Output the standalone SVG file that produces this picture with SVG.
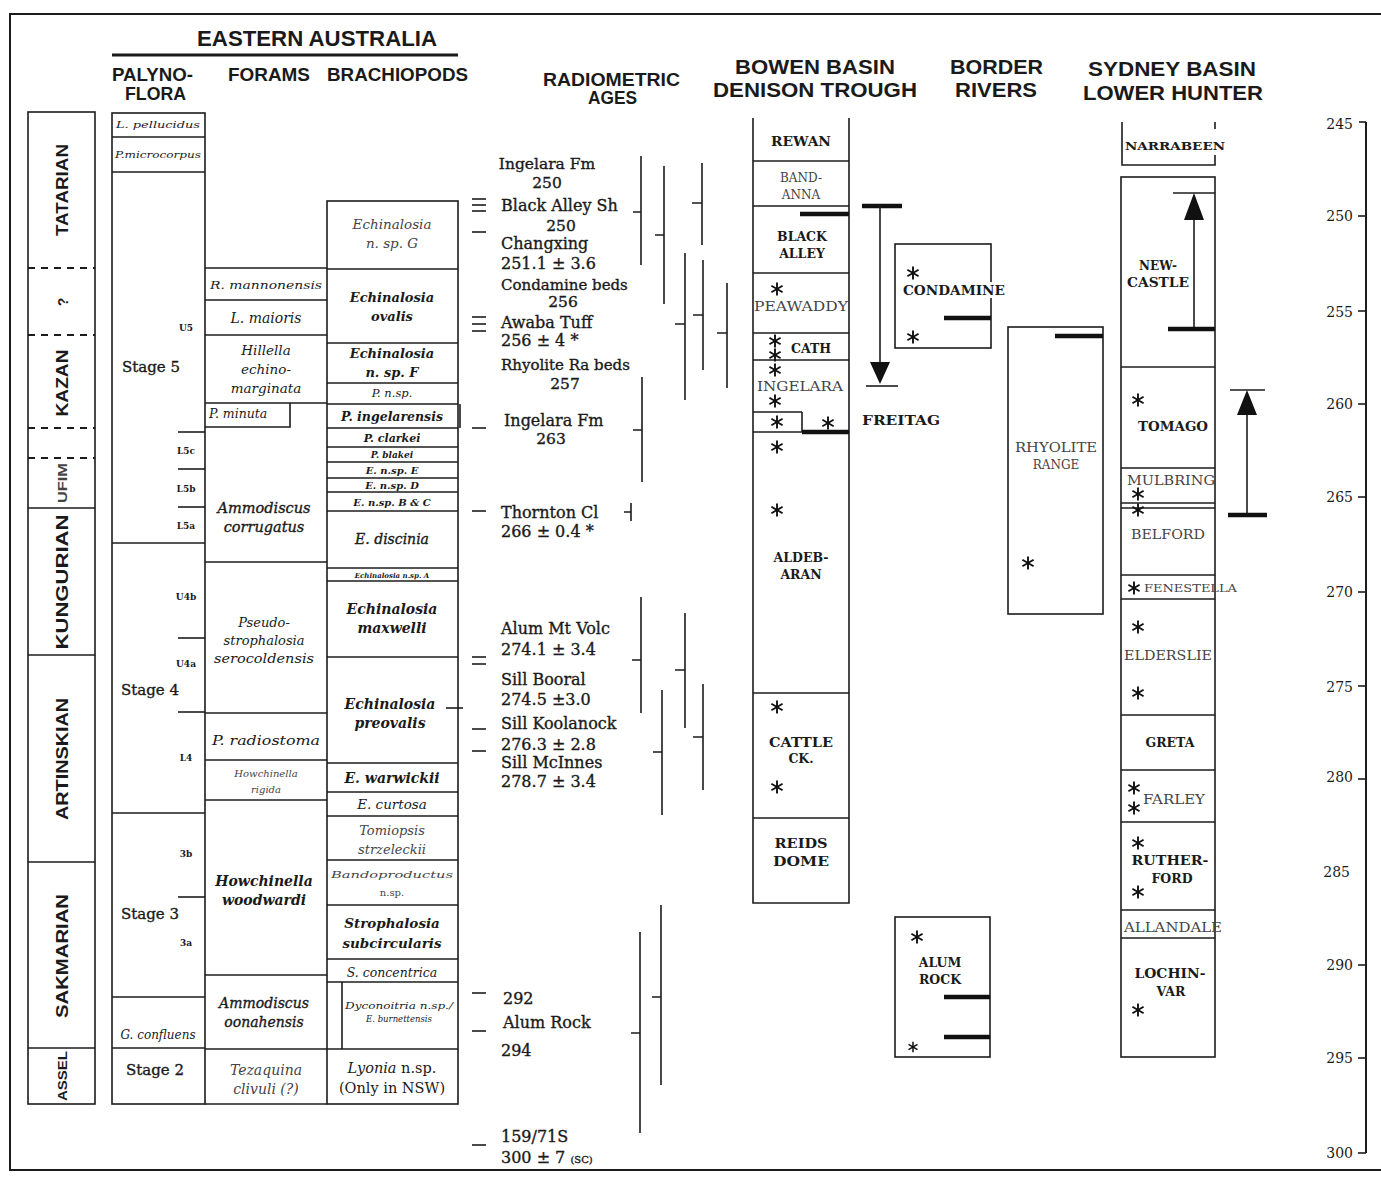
<svg xmlns="http://www.w3.org/2000/svg" width="1381" height="1184" viewBox="0 0 1381 1184">
<defs>
<style>
.ln{stroke:#1c1c1c;stroke-width:1.6;fill:none}
.tk{stroke:#1c1c1c;stroke-width:1.6}
.thk{stroke:#111;stroke-width:4.5}
.dsh{stroke:#1c1c1c;stroke-width:1.8;stroke-dasharray:7 6}
.hd{font-family:"Liberation Sans",Arial,sans-serif;font-weight:bold;fill:#1a1a1a}
.s{font-family:"DejaVu Serif","Liberation Serif",serif;fill:#1a1a1a}
.rd{stroke:#1a1a1a;stroke-width:0.35}
.i{font-style:italic}
.b{font-weight:bold}
.g{fill:#444}
.c{text-anchor:middle}
.r{text-anchor:end}
</style>
<g id="ast" stroke="#111" stroke-width="1.9"><line x1="0" y1="-6.5" x2="0" y2="6.5"/><line x1="-5.6" y1="-3.2" x2="5.6" y2="3.2"/><line x1="-5.6" y1="3.2" x2="5.6" y2="-3.2"/></g>
</defs>
<rect width="1381" height="1184" fill="#fff"/>
<rect x="10" y="14" width="1385" height="1156" class="ln" style="stroke-width:2"/>

<g id="headers">
<text class="hd" x="197" y="46" font-size="22" textLength="240" lengthAdjust="spacingAndGlyphs">EASTERN AUSTRALIA</text>
<line x1="112" y1="55" x2="458" y2="55" stroke="#1a1a1a" stroke-width="3"/>
<text class="hd" x="112" y="81" font-size="18" textLength="81" lengthAdjust="spacingAndGlyphs">PALYNO-</text>
<text class="hd" x="125" y="100" font-size="18" textLength="61" lengthAdjust="spacingAndGlyphs">FLORA</text>
<text class="hd" x="228" y="81" font-size="18" textLength="82" lengthAdjust="spacingAndGlyphs">FORAMS</text>
<text class="hd" x="327" y="81" font-size="18" textLength="141" lengthAdjust="spacingAndGlyphs">BRACHIOPODS</text>
<text class="hd" x="543" y="86" font-size="18" textLength="137" lengthAdjust="spacingAndGlyphs">RADIOMETRIC</text>
<text class="hd" x="588" y="104" font-size="18" textLength="49" lengthAdjust="spacingAndGlyphs">AGES</text>
<text class="hd" x="735" y="74" font-size="21" textLength="160" lengthAdjust="spacingAndGlyphs">BOWEN BASIN</text>
<text class="hd" x="713" y="97" font-size="21" textLength="204" lengthAdjust="spacingAndGlyphs">DENISON TROUGH</text>
<text class="hd" x="950" y="74" font-size="21" textLength="93" lengthAdjust="spacingAndGlyphs">BORDER</text>
<text class="hd" x="955" y="97" font-size="21" textLength="82" lengthAdjust="spacingAndGlyphs">RIVERS</text>
<text class="hd" x="1088" y="76" font-size="21" textLength="168" lengthAdjust="spacingAndGlyphs">SYDNEY BASIN</text>
<text class="hd" x="1083" y="100" font-size="21" textLength="180" lengthAdjust="spacingAndGlyphs">LOWER HUNTER</text>
</g>

<g id="intl-stages">
<rect x="28" y="112" width="67" height="992" class="ln"/>
<line x1="28" y1="268" x2="95" y2="268" class="dsh"/>
<line x1="28" y1="335" x2="95" y2="335" class="dsh"/>
<line x1="28" y1="428" x2="95" y2="428" class="dsh"/>
<line x1="28" y1="458" x2="95" y2="458" class="dsh"/>
<line x1="28" y1="508" x2="95" y2="508" class="tk"/>
<line x1="28" y1="655" x2="95" y2="655" class="tk"/>
<line x1="28" y1="862" x2="95" y2="862" class="tk"/>
<line x1="28" y1="1048" x2="95" y2="1048" class="tk"/>
<text class="hd c" font-size="16" transform="translate(68,190) rotate(-90)" textLength="92" lengthAdjust="spacingAndGlyphs">TATARIAN</text>
<text class="hd c" font-size="14" transform="translate(68,302) rotate(-90)">?</text>
<text class="hd c" font-size="16" transform="translate(68,383) rotate(-90)" textLength="67" lengthAdjust="spacingAndGlyphs">KAZAN</text>
<text class="hd c g" font-size="12" transform="translate(67,483) rotate(-90)" textLength="40" lengthAdjust="spacingAndGlyphs">UFIM</text>
<text class="hd c" font-size="16" transform="translate(68,582) rotate(-90)" textLength="135" lengthAdjust="spacingAndGlyphs">KUNGURIAN</text>
<text class="hd c" font-size="16" transform="translate(68,759) rotate(-90)" textLength="122" lengthAdjust="spacingAndGlyphs">ARTINSKIAN</text>
<text class="hd c" font-size="16" transform="translate(68,956) rotate(-90)" textLength="124" lengthAdjust="spacingAndGlyphs">SAKMARIAN</text>
<text class="hd c" font-size="13" transform="translate(67,1076) rotate(-90)" textLength="50" lengthAdjust="spacingAndGlyphs">ASSEL</text>
</g>

<g id="palynoflora">
<rect x="112" y="113" width="93" height="991" class="ln"/>
<line x1="112" y1="137" x2="205" y2="137" class="tk"/>
<line x1="112" y1="172" x2="205" y2="172" class="tk"/>
<line x1="112" y1="543" x2="205" y2="543" class="tk"/>
<line x1="112" y1="813" x2="205" y2="813" class="tk"/>
<line x1="112" y1="997" x2="205" y2="997" class="tk"/>
<line x1="112" y1="1048" x2="205" y2="1048" class="tk"/>
<line x1="178" y1="432" x2="205" y2="432" class="tk"/>
<line x1="178" y1="469" x2="205" y2="469" class="tk"/>
<line x1="178" y1="507" x2="205" y2="507" class="tk"/>
<line x1="178" y1="638" x2="205" y2="638" class="tk"/>
<line x1="178" y1="712" x2="205" y2="712" class="tk"/>
<line x1="178" y1="897" x2="205" y2="897" class="tk"/>
<text class="s i c" x="158" y="128" font-size="9.5" textLength="84" lengthAdjust="spacingAndGlyphs">L. pellucidus</text>
<text class="s i c" x="158" y="158" font-size="9.5" textLength="86" lengthAdjust="spacingAndGlyphs">P.microcorpus</text>
<text class="s rd" x="122" y="372" font-size="15">Stage 5</text>
<text class="s b c" x="186" y="331" font-size="9">U5</text>
<text class="s b c" x="186" y="454" font-size="9">L5c</text>
<text class="s b c" x="186" y="492" font-size="9">L5b</text>
<text class="s b c" x="186" y="529" font-size="9">L5a</text>
<text class="s b c" x="186" y="600" font-size="9">U4b</text>
<text class="s b c" x="186" y="667" font-size="9">U4a</text>
<text class="s rd" x="121" y="695" font-size="15">Stage 4</text>
<text class="s b c" x="186" y="761" font-size="9">L4</text>
<text class="s b c" x="186" y="857" font-size="9">3b</text>
<text class="s rd" x="121" y="919" font-size="15">Stage 3</text>
<text class="s b c" x="186" y="946" font-size="9">3a</text>
<text class="s i c" x="158" y="1039" font-size="12">G. confluens</text>
<text class="s c rd" x="155" y="1075" font-size="15">Stage 2</text>
</g>

<g id="forams">
<line x1="205" y1="268" x2="327" y2="268" class="tk"/>
<line x1="205" y1="300" x2="327" y2="300" class="tk"/>
<line x1="205" y1="335" x2="327" y2="335" class="tk"/>
<line x1="205" y1="403" x2="327" y2="403" class="tk"/>
<path d="M205,427 H290 V403" class="ln"/>
<line x1="205" y1="562" x2="327" y2="562" class="tk"/>
<line x1="205" y1="713" x2="327" y2="713" class="tk"/>
<line x1="205" y1="760" x2="327" y2="760" class="tk"/>
<line x1="205" y1="800" x2="327" y2="800" class="tk"/>
<line x1="205" y1="975" x2="327" y2="975" class="tk"/>
<line x1="205" y1="1049" x2="327" y2="1049" class="tk"/>
<line x1="205" y1="1104" x2="327" y2="1104" class="tk"/>
<text class="s i c" x="266" y="289" font-size="10.5" textLength="112" lengthAdjust="spacingAndGlyphs">R. mannonensis</text>
<text class="s i c" x="266" y="323" font-size="14">L. maioris</text>
<text class="s i c" x="266" y="355" font-size="13.5">Hillella</text>
<text class="s i c" x="266" y="374" font-size="13.5">echino-</text>
<text class="s i c" x="266" y="393" font-size="13.5">marginata</text>
<text class="s i" x="209" y="418" font-size="12.5">P. minuta</text>
<text class="s i c rd" x="264" y="513" font-size="14.5">Ammodiscus</text>
<text class="s i c rd" x="264" y="532" font-size="14.5">corrugatus</text>
<text class="s i c" x="264" y="627" font-size="13">Pseudo-</text>
<text class="s i c" x="264" y="645" font-size="13">strophalosia</text>
<text class="s i c" x="264" y="663" font-size="13" textLength="100" lengthAdjust="spacingAndGlyphs">serocoldensis</text>
<text class="s i c" x="266" y="745" font-size="13.5" textLength="108" lengthAdjust="spacingAndGlyphs">P. radiostoma</text>
<text class="s i c g" x="266" y="777" font-size="10">Howchinella</text>
<text class="s i c g" x="266" y="793" font-size="10">rigida</text>
<text class="s i b c" x="264" y="886" font-size="14">Howchinella</text>
<text class="s i b c" x="264" y="905" font-size="14">woodwardi</text>
<text class="s i c rd" x="264" y="1008" font-size="14">Ammodiscus</text>
<text class="s i c rd" x="264" y="1027" font-size="14">oonahensis</text>
<text class="s i c g" x="266" y="1075" font-size="14">Tezaquina</text>
<text class="s i c g" x="266" y="1094" font-size="14">clivuli (?)</text>
</g>

<g id="brachiopods">
<rect x="327" y="201" width="131" height="903" class="ln"/>
<line x1="327" y1="269" x2="458" y2="269" class="tk"/>
<line x1="327" y1="343" x2="458" y2="343" class="tk"/>
<line x1="327" y1="383" x2="458" y2="383" class="tk"/>
<line x1="327" y1="404" x2="458" y2="404" class="tk"/>
<line x1="327" y1="428" x2="458" y2="428" class="tk"/>
<line x1="460" y1="404" x2="460" y2="428" class="tk"/>
<line x1="327" y1="447" x2="458" y2="447" class="tk"/>
<line x1="327" y1="462" x2="458" y2="462" class="tk"/>
<line x1="327" y1="478" x2="458" y2="478" class="tk"/>
<line x1="327" y1="492" x2="458" y2="492" class="tk"/>
<line x1="327" y1="511" x2="458" y2="511" class="tk"/>
<line x1="327" y1="568" x2="458" y2="568" class="tk"/>
<line x1="327" y1="581" x2="458" y2="581" class="tk"/>
<line x1="327" y1="657" x2="458" y2="657" class="tk"/>
<line x1="327" y1="763" x2="458" y2="763" class="tk"/>
<line x1="327" y1="792" x2="458" y2="792" class="tk"/>
<line x1="327" y1="816" x2="458" y2="816" class="tk"/>
<line x1="327" y1="860" x2="458" y2="860" class="tk"/>
<line x1="327" y1="905" x2="458" y2="905" class="tk"/>
<line x1="327" y1="959" x2="458" y2="959" class="tk"/>
<line x1="327" y1="982" x2="458" y2="982" class="tk"/>
<line x1="327" y1="1049" x2="458" y2="1049" class="tk"/>
<line x1="342" y1="982" x2="342" y2="1049" class="tk"/>
<line x1="446" y1="708" x2="463" y2="708" class="tk"/>
<text class="s i c g" x="392" y="229" font-size="13.5">Echinalosia</text>
<text class="s i c g" x="392" y="248" font-size="13.5">n. sp. G</text>
<text class="s i b c" x="392" y="302" font-size="13">Echinalosia</text>
<text class="s i b c" x="392" y="321" font-size="13">ovalis</text>
<text class="s i b c" x="392" y="358" font-size="13">Echinalosia</text>
<text class="s i b c" x="392" y="377" font-size="13">n. sp. F</text>
<text class="s i c" x="392" y="397" font-size="11.5">P. n.sp.</text>
<text class="s i b c" x="392" y="421" font-size="12.5">P. ingelarensis</text>
<text class="s i b c" x="392" y="442" font-size="11">P. clarkei</text>
<text class="s i b c" x="392" y="458" font-size="9">P. blakei</text>
<text class="s i b c" x="392" y="474" font-size="10">E. n.sp. E</text>
<text class="s i b c" x="392" y="489" font-size="10">E. n.sp. D</text>
<text class="s i b c" x="392" y="506" font-size="10">E. n.sp. B &amp; C</text>
<text class="s i c rd" x="392" y="544" font-size="14">E. discinia</text>
<text class="s i b c" x="392" y="578" font-size="7">Echinalosia n.sp. A</text>
<text class="s i b c" x="392" y="614" font-size="14">Echinalosia</text>
<text class="s i b c" x="392" y="633" font-size="14">maxwelli</text>
<text class="s i b c" x="390" y="709" font-size="14">Echinalosia</text>
<text class="s i b c" x="390" y="728" font-size="14">preovalis</text>
<text class="s i b c" x="392" y="783" font-size="14">E. warwickii</text>
<text class="s i c" x="392" y="809" font-size="13.5">E. curtosa</text>
<text class="s i c g" x="392" y="835" font-size="13">Tomiopsis</text>
<text class="s i c g" x="392" y="854" font-size="13">strzeleckii</text>
<text class="s i c g" x="392" y="878" font-size="10" textLength="122" lengthAdjust="spacingAndGlyphs">Bandoproductus</text>
<text class="s c g" x="392" y="896" font-size="10">n.sp.</text>
<text class="s i b c" x="392" y="928" font-size="13.5">Strophalosia</text>
<text class="s i b c" x="392" y="948" font-size="13.5">subcircularis</text>
<text class="s i c" x="392" y="977" font-size="12.5">S. concentrica</text>
<text class="s i c" x="399" y="1009" font-size="8.5" textLength="108" lengthAdjust="spacingAndGlyphs">Dyconoitria n.sp./</text>
<text class="s i c" x="399" y="1022" font-size="8.5">E. burnettensis</text>
<text class="s c" x="392" y="1073" font-size="14.5"><tspan class="i">Lyonia</tspan>  n.sp.</text>
<text class="s c" x="392" y="1093" font-size="14.5">(Only in NSW)</text>
</g>

<g id="radiometric-ages">
<g class="tk">
<line x1="472" y1="199" x2="486" y2="199"/><line x1="472" y1="205" x2="486" y2="205"/><line x1="472" y1="211" x2="486" y2="211"/>
<line x1="472" y1="232" x2="486" y2="232"/>
<line x1="472" y1="317" x2="486" y2="317"/><line x1="472" y1="324" x2="486" y2="324"/><line x1="472" y1="331" x2="486" y2="331"/>
<line x1="472" y1="428" x2="486" y2="428"/>
<line x1="472" y1="511" x2="486" y2="511"/>
<line x1="472" y1="657" x2="486" y2="657"/><line x1="472" y1="664" x2="486" y2="664"/>
<line x1="472" y1="729" x2="486" y2="729"/>
<line x1="472" y1="751" x2="486" y2="751"/>
<line x1="472" y1="993" x2="486" y2="993"/>
<line x1="472" y1="1031" x2="486" y2="1031"/>
<line x1="472" y1="1145" x2="486" y2="1145"/>
</g>
<g class="rd">
<text class="s c" x="547" y="169" font-size="15.5">Ingelara Fm</text>
<text class="s c" x="547" y="188" font-size="15.5">250</text>
<text class="s" x="501" y="211" font-size="16">Black Alley Sh</text>
<text class="s c" x="561" y="231" font-size="15.5">250</text>
<text class="s" x="501" y="249" font-size="16">Changxing</text>
<text class="s" x="501" y="269" font-size="16">251.1 ± 3.6</text>
<text class="s" x="501" y="290" font-size="15">Condamine beds</text>
<text class="s c" x="563" y="307" font-size="15.5">256</text>
<text class="s" x="501" y="328" font-size="16">Awaba Tuff</text>
<text class="s" x="501" y="346" font-size="16">256 ± 4 *</text>
<text class="s" x="501" y="370" font-size="15">Rhyolite Ra beds</text>
<text class="s c" x="565" y="389" font-size="15.5">257</text>
<text class="s" x="504" y="426" font-size="16">Ingelara Fm</text>
<text class="s c" x="551" y="444" font-size="15.5">263</text>
<text class="s" x="501" y="518" font-size="16">Thornton Cl</text>
<text class="s" x="501" y="537" font-size="16">266 ± 0.4 *</text>
<text class="s" x="501" y="634" font-size="16">Alum Mt Volc</text>
<text class="s" x="501" y="655" font-size="16">274.1 ± 3.4</text>
<text class="s" x="501" y="685" font-size="16">Sill Booral</text>
<text class="s" x="501" y="705" font-size="16">274.5 ±3.0</text>
<text class="s" x="501" y="729" font-size="16">Sill Koolanock</text>
<text class="s" x="501" y="750" font-size="16">276.3 ± 2.8</text>
<text class="s" x="501" y="768" font-size="16">Sill McInnes</text>
<text class="s" x="501" y="787" font-size="16">278.7 ± 3.4</text>
<text class="s" x="503" y="1004" font-size="16">292</text>
<text class="s" x="503" y="1028" font-size="16">Alum Rock</text>
<text class="s" x="501" y="1056" font-size="16">294</text>
<text class="s" x="501" y="1142" font-size="16">159/71S</text>
<text class="s" x="501" y="1163" font-size="16">300 ± 7 <tspan font-size="10">(SC)</tspan></text>
</g>
</g>

<g id="error-bars" class="tk">
<path d="M641,156 V265 M633,212 H641" class="ln"/>
<path d="M664,166 V304 M655,235 H664" class="ln"/>
<path d="M702,163 V245 M692,203 H702" class="ln"/>
<path d="M685,253 V400 M675,324 H685" class="ln"/>
<path d="M703,260 V370 M693,315 H703" class="ln"/>
<path d="M727,283 V388 M717,333 H727" class="ln"/>
<path d="M642,377 V482 M633,430 H642" class="ln"/>
<path d="M631,503 V521 M624,512 H631" class="ln"/>
<path d="M641,597 V713 M632,660 H641" class="ln"/>
<path d="M685,613 V728 M675,670 H685" class="ln"/>
<path d="M662,690 V815 M653,752 H662" class="ln"/>
<path d="M703,684 V790 M693,737 H703" class="ln"/>
<path d="M640,932 V1133 M631,1033 H640" class="ln"/>
<path d="M661,905 V1085 M652,997 H661" class="ln"/>
</g>

<g id="bowen-basin">
<path d="M753,118 V903 H849 V118" class="ln"/>
<g class="tk">
<line x1="753" y1="161" x2="849" y2="161"/>
<line x1="753" y1="206" x2="849" y2="206"/>
<line x1="753" y1="273" x2="849" y2="273"/>
<line x1="753" y1="333" x2="849" y2="333"/>
<line x1="753" y1="360" x2="849" y2="360"/>
<line x1="753" y1="412" x2="802" y2="412"/>
<line x1="802" y1="412" x2="802" y2="432"/>
<line x1="753" y1="432" x2="849" y2="432"/>
<line x1="753" y1="693" x2="849" y2="693"/>
<line x1="753" y1="818" x2="849" y2="818"/>
</g>
<line x1="800" y1="214" x2="849" y2="214" class="thk"/>
<line x1="802" y1="432" x2="849" y2="432" class="thk"/>
<text class="s b c" x="801" y="146" font-size="12" textLength="60" lengthAdjust="spacingAndGlyphs">REWAN</text>
<text class="s c g" x="801" y="182" font-size="12">BAND-</text>
<text class="s c g" x="801" y="199" font-size="12">ANNA</text>
<text class="s b c" x="802" y="241" font-size="12.5">BLACK</text>
<text class="s b c" x="802" y="258" font-size="12.5">ALLEY</text>
<text class="s c g" x="801" y="311" font-size="12.5" textLength="94" lengthAdjust="spacingAndGlyphs">PEAWADDY</text>
<text class="s b c" x="811" y="353" font-size="12.5">CATH</text>
<text class="s c g" x="800" y="391" font-size="12.5" textLength="86" lengthAdjust="spacingAndGlyphs">INGELARA</text>
<text class="s b c" x="801" y="562" font-size="12.5">ALDEB-</text>
<text class="s b c" x="801" y="579" font-size="12.5">ARAN</text>
<text class="s b c" x="801" y="747" font-size="12.5" textLength="64" lengthAdjust="spacingAndGlyphs">CATTLE</text>
<text class="s b c" x="801" y="763" font-size="12.5">CK.</text>
<text class="s b c" x="801" y="848" font-size="12.5" textLength="53" lengthAdjust="spacingAndGlyphs">REIDS</text>
<text class="s b c" x="801" y="866" font-size="12.5" textLength="56" lengthAdjust="spacingAndGlyphs">DOME</text>
<use href="#ast" x="777" y="289"/>
<use href="#ast" x="775" y="341"/>
<use href="#ast" x="775" y="355"/>
<use href="#ast" x="775" y="370"/>
<use href="#ast" x="775" y="401"/>
<use href="#ast" x="777" y="422"/>
<use href="#ast" x="828" y="423"/>
<use href="#ast" x="777" y="447"/>
<use href="#ast" x="777" y="510"/>
<use href="#ast" x="777" y="707"/>
<use href="#ast" x="777" y="787"/>
</g>

<g id="freitag">
<line x1="862" y1="206" x2="902" y2="206" class="thk"/>
<line x1="880" y1="206" x2="880" y2="370" class="tk"/>
<polygon points="870,362 890,362 880,384" fill="#111"/>
<line x1="866" y1="386" x2="898" y2="386" class="tk"/>
<text class="s b" x="862" y="425" font-size="13" textLength="78" lengthAdjust="spacingAndGlyphs">FREITAG</text>
</g>

<g id="condamine">
<rect x="895" y="244" width="96" height="104" class="ln"/>
<line x1="944" y1="318" x2="991" y2="318" class="thk"/>
<rect x="902" y="282" width="104" height="16" fill="#fff"/>
<text class="s b" x="903" y="295" font-size="12.5" textLength="102" lengthAdjust="spacingAndGlyphs">CONDAMINE</text>
<use href="#ast" x="913" y="273"/>
<use href="#ast" x="913" y="337"/>
</g>

<g id="alum-rock">
<rect x="895" y="917" width="95" height="140" class="ln"/>
<line x1="944" y1="997" x2="990" y2="997" class="thk"/>
<line x1="944" y1="1037" x2="990" y2="1037" class="thk"/>
<text class="s b c" x="940" y="967" font-size="12.5">ALUM</text>
<text class="s b c" x="940" y="984" font-size="12.5">ROCK</text>
<use href="#ast" x="917" y="937"/>
<use href="#ast" x="913" y="1047" transform="translate(913,1047) scale(0.8) translate(-913,-1047)"/>
</g>

<g id="rhyolite-range">
<rect x="1008" y="327" width="95" height="287" class="ln"/>
<line x1="1055" y1="336" x2="1103" y2="336" class="thk"/>
<text class="s c g" x="1056" y="452" font-size="12" textLength="82" lengthAdjust="spacingAndGlyphs">RHYOLITE</text>
<text class="s c g" x="1056" y="469" font-size="12">RANGE</text>
<use href="#ast" x="1028" y="563"/>
</g>

<g id="sydney-basin">
<path d="M1122,122 V165 H1215 V155 M1215,122 V129" class="ln"/>
<text class="s b" x="1125" y="150" font-size="11.5" textLength="100" lengthAdjust="spacingAndGlyphs">NARRABEEN</text>
<rect x="1121" y="177" width="94" height="880" class="ln"/>
<g class="tk">
<line x1="1121" y1="367" x2="1215" y2="367"/>
<line x1="1121" y1="468" x2="1215" y2="468"/>
<line x1="1121" y1="503" x2="1215" y2="503"/>
<line x1="1121" y1="508" x2="1215" y2="508"/>
<line x1="1121" y1="575" x2="1215" y2="575"/>
<line x1="1121" y1="599" x2="1215" y2="599"/>
<line x1="1121" y1="715" x2="1215" y2="715"/>
<line x1="1121" y1="770" x2="1215" y2="770"/>
<line x1="1121" y1="822" x2="1215" y2="822"/>
<line x1="1121" y1="910" x2="1215" y2="910"/>
<line x1="1121" y1="938" x2="1215" y2="938"/>
</g>
<text class="s b c" x="1158" y="270" font-size="12">NEW-</text>
<text class="s b c" x="1158" y="287" font-size="12" textLength="62" lengthAdjust="spacingAndGlyphs">CASTLE</text>
<text class="s b c" x="1173" y="431" font-size="12.5" textLength="70" lengthAdjust="spacingAndGlyphs">TOMAGO</text>
<text class="s g" x="1127" y="485" font-size="12" textLength="88" lengthAdjust="spacingAndGlyphs">MULBRING</text>
<text class="s g" x="1131" y="539" font-size="12" textLength="74" lengthAdjust="spacingAndGlyphs">BELFORD</text>
<text class="s g" x="1144" y="592" font-size="11" textLength="93" lengthAdjust="spacingAndGlyphs">FENESTELLA</text>
<text class="s g" x="1124" y="660" font-size="12" textLength="88" lengthAdjust="spacingAndGlyphs">ELDERSLIE</text>
<text class="s b c" x="1170" y="747" font-size="12.5">GRETA</text>
<text class="s g" x="1143" y="804" font-size="12.5" textLength="62" lengthAdjust="spacingAndGlyphs">FARLEY</text>
<text class="s b c" x="1170" y="865" font-size="12.5" textLength="77" lengthAdjust="spacingAndGlyphs">RUTHER-</text>
<text class="s b c" x="1172" y="883" font-size="12.5">FORD</text>
<text class="s g" x="1124" y="932" font-size="12" textLength="98" lengthAdjust="spacingAndGlyphs">ALLANDALE</text>
<text class="s b c" x="1170" y="978" font-size="12.5" textLength="71" lengthAdjust="spacingAndGlyphs">LOCHIN-</text>
<text class="s b c" x="1171" y="996" font-size="12.5">VAR</text>
<use href="#ast" x="1138" y="400"/>
<use href="#ast" x="1138" y="494"/>
<use href="#ast" x="1138" y="510"/>
<use href="#ast" x="1134" y="588"/>
<use href="#ast" x="1138" y="627"/>
<use href="#ast" x="1138" y="693"/>
<use href="#ast" x="1134" y="788"/>
<use href="#ast" x="1134" y="808"/>
<use href="#ast" x="1138" y="843"/>
<use href="#ast" x="1138" y="892"/>
<use href="#ast" x="1138" y="1010"/>
</g>

<g id="newcastle-arrow">
<line x1="1173" y1="193" x2="1215" y2="193" class="tk"/>
<line x1="1194" y1="210" x2="1194" y2="329" class="tk"/>
<polygon points="1194,193 1184,220 1204,220" fill="#111"/>
<line x1="1168" y1="329" x2="1215" y2="329" class="thk"/>
</g>

<g id="tomago-arrow">
<line x1="1230" y1="390" x2="1265" y2="390" class="tk"/>
<line x1="1247" y1="405" x2="1247" y2="515" class="tk"/>
<polygon points="1247,390 1237,415 1257,415" fill="#111"/>
<line x1="1228" y1="515" x2="1267" y2="515" class="thk"/>
</g>

<g id="age-scale">
<line x1="1366" y1="122" x2="1366" y2="1153" class="tk" style="stroke-width:2"/>
<g class="tk">
<line x1="1359" y1="122" x2="1366" y2="122"/>
<line x1="1358" y1="216" x2="1366" y2="216"/>
<line x1="1358" y1="311" x2="1366" y2="311"/>
<line x1="1358" y1="404" x2="1366" y2="404"/>
<line x1="1358" y1="497" x2="1366" y2="497"/>
<line x1="1358" y1="592" x2="1366" y2="592"/>
<line x1="1358" y1="686" x2="1366" y2="686"/>
<line x1="1358" y1="779" x2="1366" y2="779"/>
<line x1="1358" y1="965" x2="1366" y2="965"/>
<line x1="1358" y1="1058" x2="1366" y2="1058"/>
<line x1="1358" y1="1153" x2="1366" y2="1153"/>
</g>
<text class="s r" x="1353" y="129" font-size="14">245</text>
<text class="s r" x="1353" y="221" font-size="14">250</text>
<text class="s r" x="1353" y="317" font-size="14">255</text>
<text class="s r" x="1353" y="409" font-size="14">260</text>
<text class="s r" x="1353" y="502" font-size="14">265</text>
<text class="s r" x="1353" y="597" font-size="14">270</text>
<text class="s r" x="1353" y="692" font-size="14">275</text>
<text class="s r" x="1353" y="782" font-size="14">280</text>
<text class="s r" x="1350" y="877" font-size="14">285</text>
<text class="s r" x="1353" y="970" font-size="14">290</text>
<text class="s r" x="1353" y="1063" font-size="14">295</text>
<text class="s r" x="1353" y="1158" font-size="14">300</text>
</g>
</svg>
